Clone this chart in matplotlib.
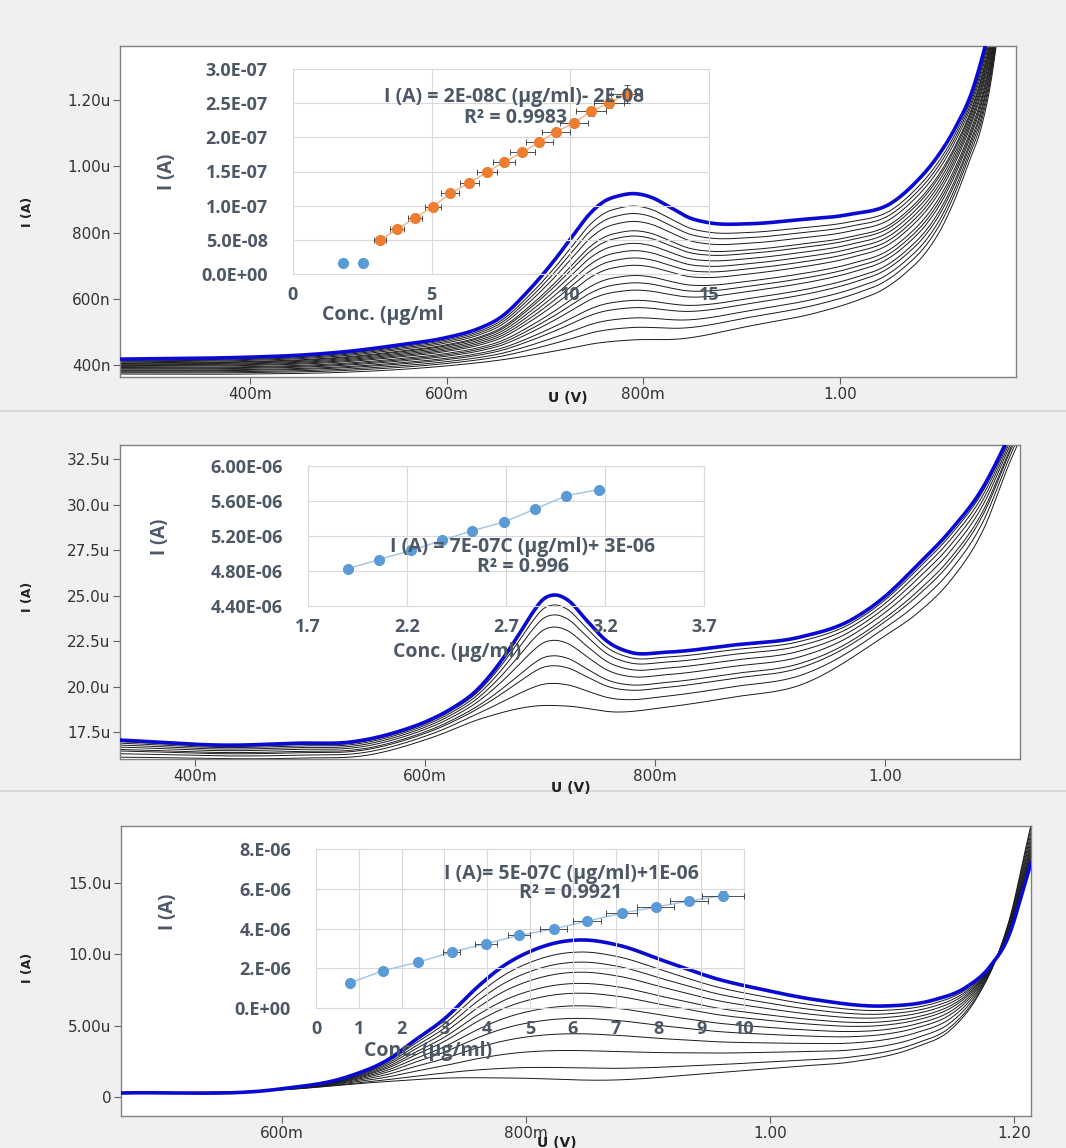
import numpy as np
import matplotlib
matplotlib.use("Agg")
import matplotlib.pyplot as plt
from matplotlib.lines import Line2D

# ---------------- data ----------------
# Panel 1 (nA vs V)
P1_TOP_V = [0.268, 0.400, 0.451, 0.502, 0.552, 0.598, 0.634, 0.654, 0.684, 0.710, 0.730, 0.745, 0.760,
            0.776, 0.789, 0.809, 0.826, 0.847, 0.867, 0.908, 0.958, 1.009, 1.053, 1.077, 1.097, 1.118,
            1.134, 1.148, 1.180]
P1_TOP_I = [418, 424, 430, 442, 461, 482, 512, 542, 627, 718, 797, 855, 894, 912, 918, 906, 879, 845,
            830, 827, 839, 855, 891, 952, 1021, 1121, 1224, 1367, 1800]
P1_BOT_V = [0.268, 0.400, 0.502, 0.598, 0.654, 0.715, 0.755, 0.789, 0.837, 0.908, 0.976, 1.019, 1.043,
            1.067, 1.087, 1.104, 1.118, 1.131, 1.144, 1.154, 1.159, 1.180]
P1_BOT_I = [373, 373, 379, 397, 415, 445, 467, 476, 479, 518, 558, 597, 627, 679, 739, 818, 909, 1012,
            1121, 1264, 1367, 1900]
P1_LEVELS = [0.0, 0.085, 0.15, 0.22, 0.27, 0.34, 0.39, 0.44, 0.51, 0.56, 0.61, 0.66, 0.71, 0.746,
             0.81, 0.864, 0.915]

# Panel 2 (uA vs V)
P2_TOP_V = [0.335, 0.430, 0.491, 0.535, 0.578, 0.600, 0.622, 0.645, 0.665, 0.683, 0.694, 0.702, 0.713,
            0.723, 0.741, 0.758, 0.778, 0.810, 0.868, 0.926, 0.970, 0.998, 1.028, 1.057, 1.085, 1.103,
            1.120]
P2_TOP_I = [17.06, 16.78, 16.89, 16.95, 17.55, 18.05, 18.75, 19.80, 21.30, 23.00, 24.10, 24.75, 25.03,
            24.80, 23.60, 22.50, 21.89, 21.89, 22.28, 22.72, 23.65, 24.86, 26.68, 28.60, 30.96, 33.16,
            35.6]
P2_BOT_V = [0.335, 0.491, 0.550, 0.607, 0.650, 0.700, 0.723, 0.767, 0.810, 0.868, 0.926, 0.998, 1.028,
            1.057, 1.085, 1.109, 1.120]
P2_BOT_I = [16.12, 16.07, 16.23, 17.22, 18.26, 18.95, 18.93, 18.60, 18.87, 19.42, 20.08, 22.72, 24.04,
            25.85, 28.60, 32.45, 34.0]
P2_LEVELS = [0.0, 0.2, 0.36, 0.45, 0.59, 0.71, 0.82, 0.91]

# Panel 3 (uA vs V)
P3_TOP_V = [0.468, 0.598, 0.653, 0.689, 0.707, 0.732, 0.762, 0.779, 0.806, 0.828, 0.847, 0.875, 0.916,
            0.957, 0.992, 1.039, 1.093, 1.134, 1.161, 1.180, 1.197, 1.207, 1.216]
P3_TOP_I = [0.28, 0.56, 1.40, 2.73, 3.86, 5.40, 7.85, 9.04, 10.30, 10.87, 11.01, 10.66, 9.46, 8.27,
            7.57, 6.80, 6.38, 6.80, 7.71, 9.11, 11.57, 14.37, 17.0]
P3_BOT_V = [0.468, 0.598, 0.680, 0.735, 0.789, 0.871, 0.953, 1.025, 1.066, 1.120, 1.148, 1.170, 1.186,
            1.199, 1.207, 1.213, 1.216]
P3_BOT_I = [0.28, 0.49, 1.05, 1.33, 1.33, 1.19, 1.68, 2.17, 2.45, 3.51, 4.70, 7.01, 9.81, 13.32,
            16.40, 18.72, 19.8]
P3_LEVELS = [0.0, 0.086, 0.21, 0.33, 0.44, 0.53, 0.62, 0.69, 0.77, 0.842, 0.914]

# Inset 1
C1_CONC = [3.14, 3.75, 4.40, 5.04, 5.67, 6.35, 6.99, 7.61, 8.27, 8.88, 9.48, 10.13, 10.74, 11.39, 12.03]
C1_I = [0.50e-7, 0.654e-7, 0.82e-7, 0.985e-7, 1.18e-7, 1.33e-7, 1.49e-7, 1.64e-7, 1.78e-7, 1.93e-7,
        2.08e-7, 2.21e-7, 2.38e-7, 2.50e-7, 2.63e-7]
C1_XERR = [0.22, 0.24, 0.26, 0.28, 0.32, 0.34, 0.36, 0.40, 0.44, 0.48, 0.50, 0.52, 0.54, 0.55, 0.55]
C1_YERR = [0.01e-7, 0.01e-7, 0.015e-7, 0.02e-7, 0.03e-7, 0.03e-7, 0.04e-7, 0.04e-7, 0.05e-7, 0.05e-7,
           0.06e-7, 0.06e-7, 0.07e-7, 0.07e-7, 0.13e-7]
C1_BLUE_CONC = [1.82, 2.54]
C1_BLUE_I = [1.66e-8, 1.66e-8]

# Inset 2
C2_CONC = [1.902, 2.057, 2.222, 2.377, 2.530, 2.690, 2.848, 3.005, 3.168]
C2_I = [4.827e-6, 4.930e-6, 5.036e-6, 5.150e-6, 5.261e-6, 5.360e-6, 5.509e-6, 5.661e-6, 5.730e-6]

# Inset 3
C3_CONC = [0.79, 1.57, 2.38, 3.17, 3.97, 4.74, 5.55, 6.34, 7.14, 7.94, 8.71, 9.52]
C3_I = [1.26e-6, 1.88e-6, 2.30e-6, 2.81e-6, 3.24e-6, 3.65e-6, 3.98e-6, 4.37e-6, 4.77e-6, 5.08e-6,
        5.38e-6, 5.66e-6]
C3_XERR = [0.0, 0.0, 0.05, 0.2, 0.25, 0.25, 0.31, 0.33, 0.37, 0.43, 0.45, 0.49]
C3_YERR = [0.05e-6, 0.05e-6, 0.05e-6, 0.08e-6, 0.1e-6, 0.1e-6, 0.12e-6, 0.15e-6, 0.18e-6, 0.2e-6,
           0.22e-6, 0.25e-6]

# ---------------- helpers ----------------
W, H = 1066, 1148
BG = '#f0f0f0'
INK = '#4d5866'
BLUE = '#0a0ad2'


def hermite(x, y, xs):
    x = np.asarray(x, float)
    y = np.asarray(y, float)
    m = np.gradient(y, x)
    idx = np.clip(np.searchsorted(x, xs) - 1, 0, len(x) - 2)
    h = x[idx + 1] - x[idx]
    t = (xs - x[idx]) / h
    h00 = 2 * t**3 - 3 * t**2 + 1
    h10 = t**3 - 2 * t**2 + t
    h01 = -2 * t**3 + 3 * t**2
    h11 = t**3 - t**2
    return h00 * y[idx] + h10 * h * m[idx] + h01 * y[idx + 1] + h11 * h * m[idx + 1]


def rect(l, t, r, b):
    return [l / W, 1 - b / H, (r - l) / W, (b - t) / H]


def ftext(x, y, s, **kw):
    fig.text(x / W, 1 - y / H, s, **kw)


fig = plt.figure(figsize=(W / 100, H / 100), dpi=100, facecolor=BG)

for yy in (411, 791):
    fig.add_artist(Line2D([0, 1], [1 - yy / H, 1 - yy / H], transform=fig.transFigure,
                          color='#d4d4d4', lw=1.2))


def main_panel(r, tv, ti, bv, bi, levels, xlim, ylim, xt, xtl, yt, ytl, ylab_y, xlab):
    ax = fig.add_axes(rect(*r))
    ax.set_facecolor('white')
    vmax = min(tv[-1], bv[-1])
    grid = np.linspace(max(tv[0], bv[0]), vmax, 1200)
    top = hermite(tv, ti, grid)
    bot = hermite(bv, bi, grid)
    for f in levels:
        ax.plot(grid, bot + f * (top - bot), color='#1a1a1a', lw=0.7, zorder=2)
    ax.plot(grid, top, color=BLUE, lw=2.6, zorder=3, solid_capstyle='round')
    ax.set_xlim(*xlim)
    ax.set_ylim(*ylim)
    ax.set_xticks(xt)
    ax.set_xticklabels(xtl)
    ax.set_yticks(yt)
    ax.set_yticklabels(ytl)
    for sp in ax.spines.values():
        sp.set_color('#808080')
        sp.set_linewidth(1.0)
    ax.tick_params(direction='out', length=5, width=0.8, color='#606060', labelcolor='#333333',
                   labelsize=11, pad=2)
    for lab in ax.get_xticklabels() + ax.get_yticklabels():
        lab.set_family('DejaVu Sans')
    ftext(27, ylab_y, 'I (A)', rotation=90, ha='center', va='center', fontsize=9,
          fontweight='bold', color='#222222', family='DejaVu Sans')
    ftext(xlab[0], xlab[1], 'U (V)', ha='center', va='center', fontsize=10,
          fontweight='bold', color='#222222', family='DejaVu Sans')
    return ax


main_panel((120, 46, 1016, 377), P1_TOP_V, P1_TOP_I, P1_BOT_V, P1_BOT_I, P1_LEVELS,
           (0.268, 1.179), (364, 1364), [0.4, 0.6, 0.8, 1.0], ['400m', '600m', '800m', '1.00'],
           [400, 600, 800, 1000, 1200], ['400n', '600n', '800n', '1.00u', '1.20u'], 212, (568, 398))

main_panel((120, 445, 1020, 759), P2_TOP_V, P2_TOP_I, P2_BOT_V, P2_BOT_I, P2_LEVELS,
           (0.335, 1.117), (16.02, 33.27), [0.4, 0.6, 0.8, 1.0], ['400m', '600m', '800m', '1.00'],
           [17.5, 20, 22.5, 25, 27.5, 30, 32.5],
           ['17.5u', '20.0u', '22.5u', '25.0u', '27.5u', '30.0u', '32.5u'], 597, (571, 788))

main_panel((121, 826, 1031, 1116), P3_TOP_V, P3_TOP_I, P3_BOT_V, P3_BOT_I, P3_LEVELS,
           (0.468, 1.214), (-1.33, 19.0), [0.6, 0.8, 1.0, 1.2], ['600m', '800m', '1.00', '1.20'],
           [0, 5, 10, 15], ['0', '5.00u', '10.0u', '15.0u'], 968, (557, 1143))

IFONT = dict(family='Open Sans', weight='bold', color=INK)


def inset(r, xlim, ylim, xt, xtl, yt, ytl):
    ax = fig.add_axes(rect(*r), zorder=5)
    ax.patch.set_alpha(0)
    ax.set_xlim(*xlim)
    ax.set_ylim(*ylim)
    ax.set_xticks(xt)
    ax.set_xticklabels(xtl)
    ax.set_yticks(yt)
    ax.set_yticklabels(ytl)
    ax.grid(True, color='#d9d9d9', lw=0.8)
    ax.set_axisbelow(True)
    for sp in ax.spines.values():
        sp.set_color('#d9d9d9')
        sp.set_linewidth(0.8)
    ax.tick_params(length=0, labelsize=13, labelcolor=INK)
    ax.tick_params(axis='x', pad=9)
    ax.tick_params(axis='y', pad=18)
    for lab in ax.get_xticklabels() + ax.get_yticklabels():
        lab.set_family('Open Sans')
        lab.set_weight('bold')
    return ax


EQ = 14

# Inset 1
a1 = inset((293, 69, 709, 274), (0, 15), (0, 3.0e-7), [0, 5, 10, 15], ['0', '5', '10', '15'],
           [0, 0.5e-7, 1.0e-7, 1.5e-7, 2.0e-7, 2.5e-7, 3.0e-7],
           ['0.0E+00', '5.0E-08', '1.0E-07', '1.5E-07', '2.0E-07', '2.5E-07', '3.0E-07'])
a1.plot(C1_CONC, C1_I, color='#f4b183', lw=1.0, zorder=3)
a1.errorbar(C1_CONC, C1_I, xerr=C1_XERR, yerr=C1_YERR, fmt='o', ms=7, color='#ed7d31',
            mec='#ed7d31', ecolor='#333333', elinewidth=0.6, capsize=2.5, capthick=0.6, zorder=4)
a1.plot(C1_BLUE_CONC, C1_BLUE_I, 'o', ms=7, color='#5b9bd5', zorder=4)
ftext(514, 97, 'I (A) = 2E-08C (µg/ml)- 2E-08', ha='center', va='center', fontsize=EQ, zorder=10, **IFONT)
ftext(515, 118, 'R² = 0.9983', ha='center', va='center', fontsize=EQ, zorder=10, **IFONT)
ftext(383, 315, 'Conc. (µg/ml', ha='center', va='center', fontsize=EQ, **IFONT)
ftext(167, 172, 'I (A)', rotation=90, ha='center', va='center', fontsize=13.5, **IFONT)

# Inset 2
a2 = inset((308, 466, 704, 606), (1.7, 3.7), (4.4e-6, 6.0e-6), [1.7, 2.2, 2.7, 3.2, 3.7],
           ['1.7', '2.2', '2.7', '3.2', '3.7'], [4.4e-6, 4.8e-6, 5.2e-6, 5.6e-6, 6.0e-6],
           ['4.40E-06', '4.80E-06', '5.20E-06', '5.60E-06', '6.00E-06'])
a2.plot(C2_CONC, C2_I, color='#9dc3e6', lw=1.0, zorder=3)
a2.plot(C2_CONC, C2_I, 'o', ms=7, color='#5b9bd5', zorder=4)
ftext(523, 547, 'I (A) = 7E-07C (µg/ml)+ 3E-06', ha='center', va='center', fontsize=EQ, zorder=10, **IFONT)
ftext(523, 567, 'R² = 0.996', ha='center', va='center', fontsize=EQ, zorder=10, **IFONT)
ftext(457, 652, 'Conc. (µg/ml)', ha='center', va='center', fontsize=EQ, **IFONT)
ftext(160, 537, 'I (A)', rotation=90, ha='center', va='center', fontsize=13.5, **IFONT)

# Inset 3
a3 = inset((316, 849, 744, 1008), (0, 10), (0, 8e-6), list(range(11)), [str(i) for i in range(11)],
           [0, 2e-6, 4e-6, 6e-6, 8e-6], ['0.E+00', '2.E-06', '4.E-06', '6.E-06', '8.E-06'])
a3.plot(C3_CONC, C3_I, color='#9dc3e6', lw=1.0, zorder=3)
a3.errorbar(C3_CONC, C3_I, xerr=C3_XERR, yerr=C3_YERR, fmt='o', ms=7, color='#5b9bd5',
            mec='#5b9bd5', ecolor='#333333', elinewidth=0.6, capsize=2.5, capthick=0.6, zorder=4)
ftext(571, 874, 'I (A)= 5E-07C (µg/ml)+1E-06', ha='center', va='center', fontsize=EQ, zorder=10, **IFONT)
ftext(571, 893, 'R² = 0.9921', ha='center', va='center', fontsize=EQ, zorder=10, **IFONT)
ftext(428, 1051, 'Conc. (µg/ml)', ha='center', va='center', fontsize=EQ, **IFONT)
ftext(168, 912, 'I (A)', rotation=90, ha='center', va='center', fontsize=13.5, **IFONT)

fig.savefig('out.png', dpi=100, facecolor=BG)
